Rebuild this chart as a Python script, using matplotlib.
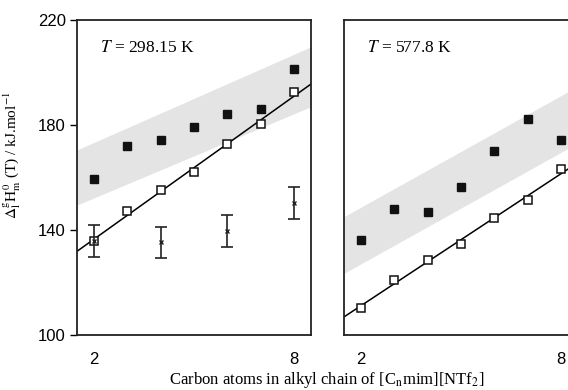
import numpy as np
import matplotlib
matplotlib.use('Agg')
import matplotlib.pyplot as plt

plt.rcParams['mathtext.fontset'] = 'stix'

# carbon atoms n in [Cnmim][NTf2]
n = [2, 3, 4, 5, 6, 7, 8]

# T = 298.15 K
filled_298 = [159.3, 172.1, 174.2, 179.2, 184.3, 186.2, 201.2]
open_298 = [135.8, 147.2, 155.2, 162.0, 172.8, 180.5, 192.7]
exp_n = [2, 4, 6, 8]
exp_298 = [135.8, 135.3, 139.7, 150.2]
exp_err = [6.0, 6.0, 6.1, 6.0]
band_x = [1.5, 8.5]
band_lo_298 = [149.5, 187.0]
band_hi_298 = [170.5, 209.8]

# T = 577.8 K
filled_578 = [136.1, 148.0, 147.0, 156.3, 170.2, 182.3, 174.3]
open_578 = [110.4, 121.1, 128.6, 134.6, 144.7, 151.5, 163.2]
band_lo_578 = [123.5, 173.2]
band_hi_578 = [145.1, 194.8]

serif = 'Liberation Serif'
sans = 'Liberation Sans'

fig = plt.figure(figsize=(5.68, 3.9), dpi=100)
ax1 = fig.add_axes([77/568, 55/390, 234/568, 315/390])
ax2 = fig.add_axes([344/568, 55/390, 234/568, 315/390])


def panel(ax, filled, opn, lo, hi, label):
    ax.fill_between(band_x, lo, hi, color='#e4e4e4', lw=0, zorder=1)
    k, b = np.polyfit(n, opn, 1)
    xx = np.array(band_x)
    ax.plot(xx, k*xx + b, color='black', lw=1.1, zorder=2)
    ax.plot(n, filled, 's', ms=6.3, color='#111111', zorder=3)
    ax.plot(n, opn, 's', ms=6.3, mfc='white', mec='#111111', mew=1.1, zorder=3)
    ax.set_xlim(1.5, 8.5)
    ax.set_ylim(100, 220)
    ax.set_xticks([2, 8])
    ax.tick_params(axis='x', length=0, pad=12, labelsize=12)
    for s in ax.spines.values():
        s.set_linewidth(1.3)
        s.set_color('#222222')
    for t in ax.get_xticklabels():
        t.set_fontfamily(sans)
    ax.text(2.2, 209.3, label, fontsize=12.5, family=serif, va='center')


panel(ax1, filled_298, open_298, band_lo_298, band_hi_298,
      r'$T$ = 298.15 K')
panel(ax2, filled_578, open_578, band_lo_578, band_hi_578,
      r'$T$ = 577.8 K')

ax1.errorbar(exp_n, exp_298, yerr=exp_err, fmt='x', ms=3, color='#222222',
             ecolor='#222222', elinewidth=1.2, capsize=4, capthick=1.2, zorder=4)

ax1.set_yticks([100, 140, 180, 220])
ax1.tick_params(axis='y', length=5, width=1, pad=3, labelsize=12)
for t in ax1.get_yticklabels():
    t.set_fontfamily(sans)
ax2.set_yticks([])

ax1.set_ylabel(r'$\Delta_{\rm l}^{\rm g}\mathrm{H}_{\rm m}^{\,0}$ (T) / kJ.mol$^{-1}$',
               family=serif, fontsize=11)
ax1.yaxis.set_label_coords(-0.23, 0.571)
fig.text(327/568, 1 - 380/390,
         r'Carbon atoms in alkyl chain of [C$_{\rm n}$mim][NTf$_2$]',
         family=serif, fontsize=12, ha='center', va='center')

fig.savefig('out.png', dpi=100, facecolor='white')
